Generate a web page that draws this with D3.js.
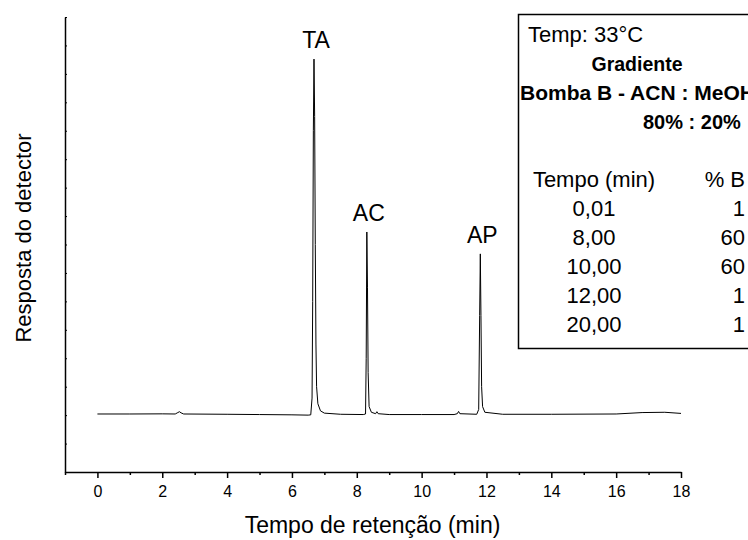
<!DOCTYPE html>
<html lang="pt">
  <head>
    <meta charset="UTF-8" />
    <title>Cromatograma</title>
    <script src="https://d3js.org/d3.v7.min.js"></script>
    <style>
      body { margin: 0; background: #fff; }
      svg text { font-family: "Liberation Sans", Arial, sans-serif; fill: #000; }
    </style>
  </head>
  <body>
    <svg width="748" height="540"></svg>
    <script>
      // chromatogram trace (time in min, response in arbitrary units)
      var traceTime = [0.00, 1.00, 2.00, 2.40, 2.48, 2.53, 2.58, 2.66, 4.00, 5.00, 6.00, 6.50,
        6.58, 6.62, 6.64, 6.66, 6.68, 6.70, 6.72, 6.74, 6.76, 6.80, 6.88, 7.00, 7.50,
        8.20, 8.27, 8.29, 8.31, 8.33, 8.35, 8.38, 8.45, 8.58, 8.62, 8.66, 9.00, 10.00,
        11.00, 11.10, 11.14, 11.18, 11.70, 11.76, 11.79, 11.81, 11.83, 11.85, 11.88, 11.95,
        12.50, 14.00, 16.00, 16.80, 17.50, 18.00];
      var traceResp = [2.04, 2.04, 2.045, 2.04, 2.09, 2.12, 2.08, 2.04, 2.03, 2.02, 2.01, 2.00,
        2.01, 2.6, 6.0, 12.0, 14.52, 12.5, 8.0, 4.5, 3.0, 2.4, 2.15, 2.07, 2.03,
        2.02, 2.04, 4.0, 8.44, 6.5, 3.5, 2.3, 2.1, 2.05, 2.12, 2.05, 2.02, 2.02,
        2.02, 2.05, 2.13, 2.05, 2.03, 2.2, 5.5, 7.67, 5.5, 3.0, 2.3, 2.1,
        2.03, 2.03, 2.04, 2.09, 2.1, 2.06];

      var peakNames = ["TA", "AC", "AP"];
      var peakTimes = [6.68, 8.31, 11.81];
      var peakTops = [14.52, 8.44, 7.67];

      var xMajorTicks = [0, 2, 4, 6, 8, 10, 12, 14, 16, 18];
      var xMinorTicks = [-1, 1, 3, 5, 7, 9, 11, 13, 15, 17];
      var yTicks = [1, 2, 3, 4, 5, 6, 7, 8, 9, 10, 11, 12, 13, 14, 15, 16];

      // gradient table in the box
      var gradTime = ["0,01", "8,00", "10,00", "12,00", "20,00"];
      var gradB = ["1", "60", "60", "1", "1"];

      var svg = d3.select("svg");

      var x = d3.scaleLinear().domain([-1, 18]).range([65, 681]);
      var y = d3.scaleLinear().domain([0, 16]).range([472, 17]);

      // trace
      var line = d3.line()
        .x((d, i) => x(traceTime[i]))
        .y((d, i) => y(traceResp[i]));

      svg.append("path")
        .datum(traceTime)
        .attr("d", line)
        .attr("fill", "none")
        .attr("stroke", "#000")
        .attr("stroke-width", 1);

      // axes
      var xMinor = svg.append("g")
        .attr("transform", "translate(0,472)")
        .call(d3.axisBottom(x).tickValues(xMinorTicks).tickSize(3).tickFormat(""));
      var xMajor = svg.append("g")
        .attr("transform", "translate(0,472)")
        .call(d3.axisBottom(x).tickValues(xMajorTicks).tickSize(6).tickSizeOuter(0).tickPadding(8));
      xMajor.selectAll("text").style("font-size", "16px").attr("fill", "#000");

      var yAxis = svg.append("g")
        .attr("transform", "translate(65,0)")
        .call(d3.axisLeft(y).tickValues(yTicks).tickSize(-2).tickSizeOuter(0).tickFormat(""));

      svg.selectAll(".domain, .tick line").attr("stroke", "#000").attr("stroke-width", 1.5);
      xMinor.select(".domain").remove();
      yAxis.selectAll(".tick line").attr("stroke-width", 1);

      // axis titles
      svg.append("text")
        .attr("x", 372.5)
        .attr("y", 533)
        .attr("text-anchor", "middle")
        .style("font-size", "23px")
        .text("Tempo de retenção (min)");

      svg.append("text")
        .attr("transform", "translate(31,238) rotate(-90)")
        .attr("text-anchor", "middle")
        .style("font-size", "22px")
        .text("Resposta do detector");

      // peak labels
      svg.selectAll(".peak")
        .data(peakNames)
        .join("text")
        .attr("class", "peak")
        .attr("x", (d, i) => x(peakTimes[i]) + 2)
        .attr("y", (d, i) => y(peakTops[i]) - 11)
        .attr("text-anchor", "middle")
        .style("font-size", "23px")
        .text((d) => d);

      // info box
      var box = svg.append("g");
      box.append("rect")
        .attr("x", 518.5)
        .attr("y", 14.5)
        .attr("width", 260)
        .attr("height", 334)
        .attr("fill", "#fff")
        .attr("stroke", "#000")
        .attr("stroke-width", 1.5);

      box.append("text").attr("x", 528).attr("y", 42)
        .style("font-size", "22px").text("Temp: 33°C");
      box.append("text").attr("x", 637).attr("y", 71).attr("text-anchor", "middle")
        .style("font-size", "19.5px").style("font-weight", "bold").text("Gradiente");
      box.append("text").attr("x", 520).attr("y", 100)
        .style("font-size", "21px").style("font-weight", "bold").text("Bomba B - ACN : MeOH");
      box.append("text").attr("x", 643).attr("y", 129)
        .style("font-size", "20px").style("font-weight", "bold").text("80% : 20%");

      box.append("text").attr("x", 594).attr("y", 187).attr("text-anchor", "middle")
        .style("font-size", "22px").text("Tempo (min)");
      box.append("text").attr("x", 745).attr("y", 187).attr("text-anchor", "end")
        .style("font-size", "22px").text("% B");

      box.selectAll(".gt")
        .data(gradTime)
        .join("text")
        .attr("class", "gt")
        .attr("x", 594)
        .attr("y", (d, i) => 216 + i * 29)
        .attr("text-anchor", "middle")
        .style("font-size", "22px")
        .text((d) => d);

      box.selectAll(".gb")
        .data(gradB)
        .join("text")
        .attr("class", "gb")
        .attr("x", 745)
        .attr("y", (d, i) => 216 + i * 29)
        .attr("text-anchor", "end")
        .style("font-size", "22px")
        .text((d) => d);
    </script>
  </body>
</html>
